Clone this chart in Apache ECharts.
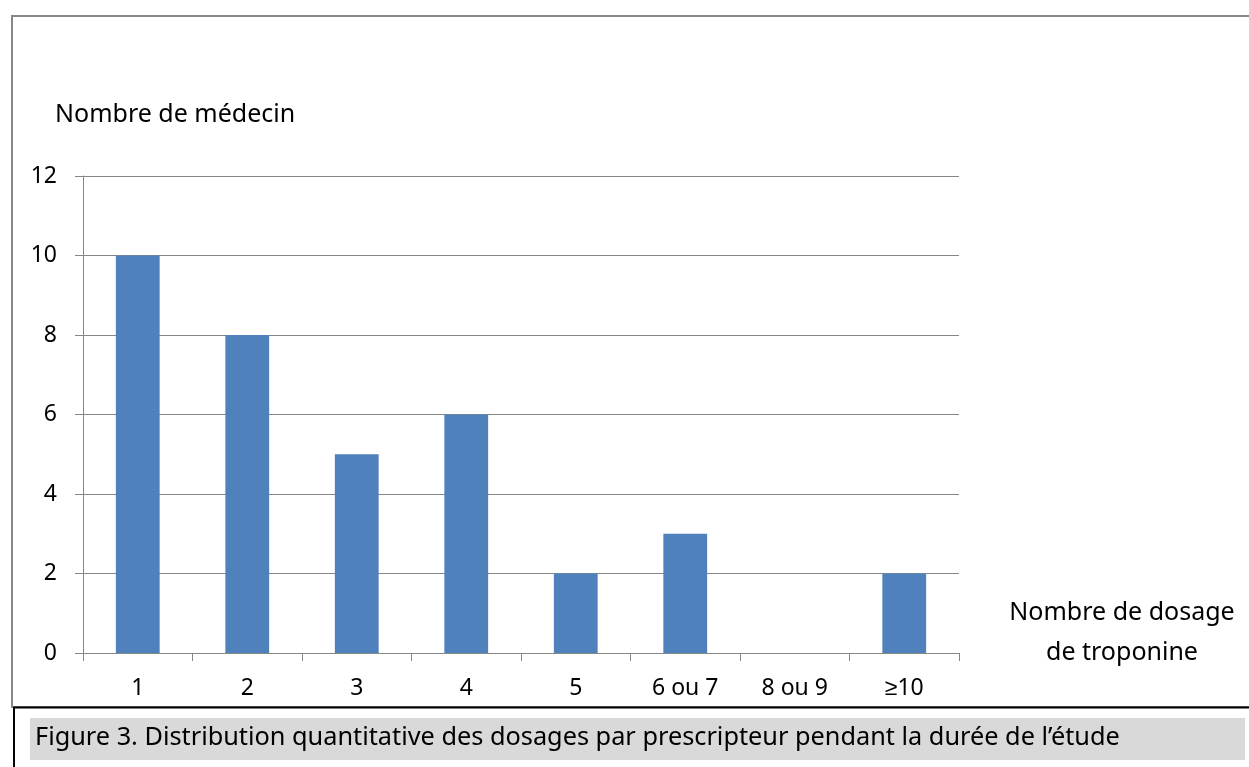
<!DOCTYPE html>
<html>
<head>
<meta charset="utf-8">
<script src="https://cdn.jsdelivr.net/npm/echarts@6/dist/echarts.min.js"></script>
<style>
html,body{margin:0;padding:0;background:#fff;}
#chart{width:1249px;height:767px;}
</style>
</head>
<body>
<div id="chart"></div>
<script>
const categories = ['1', '2', '3', '4', '5', '6 ou 7', '8 ou 9', '≥10'];
const values = [10, 8, 5, 6, 2, 3, 0, 2];
const yTicks = { min: 0, max: 12, interval: 2 };
const yTitle = 'Nombre de médecin';
const xTitle = 'Nombre de dosage\nde troponine';
const caption = 'Figure 3. Distribution quantitative des dosages par prescripteur pendant la durée de l’étude';

const FONT = '"Noto Sans", sans-serif';
const chart = echarts.init(document.getElementById('chart'), null, { renderer: 'canvas' });
chart.setOption({
  animation: false,
  backgroundColor: '#ffffff',
  grid: { left: 83, right: 290, top: 176, bottom: 114, containLabel: false, outerBoundsMode: 'none' },
  xAxis: {
    type: 'category',
    data: categories,
    boundaryGap: true,
    axisLine: { show: true, lineStyle: { color: '#868686', width: 1 } },
    axisTick: { show: true, length: 8, alignWithLabel: false, lineStyle: { color: '#868686' } },
    axisLabel: { color: '#000', fontFamily: FONT, fontSize: 23, margin: 24 },
    splitLine: { show: false }
  },
  yAxis: {
    type: 'value',
    min: yTicks.min, max: yTicks.max, interval: yTicks.interval,
    axisLine: { show: true, lineStyle: { color: '#868686', width: 1 } },
    axisTick: { show: true, length: 8, lineStyle: { color: '#868686' } },
    axisLabel: { color: '#000', fontFamily: FONT, fontSize: 23, margin: 26 },
    splitLine: { show: true, lineStyle: { color: '#868686', width: 1 } }
  },
  series: [{
    type: 'bar',
    data: values,
    barWidth: '40%',
    itemStyle: { color: '#4F81BD' }
  }],
  graphic: [
    { type: 'rect', z: -10, silent: true, shape: { x: 12, y: 16, width: 1250, height: 691 },
      style: { fill: 'none', stroke: '#888888', lineWidth: 2 } },
    { type: 'line', silent: true, shape: { x1: 13, y1: 707.5, x2: 1260, y2: 707.5 },
      style: { stroke: '#000000', lineWidth: 2 } },
    { type: 'line', silent: true, shape: { x1: 14, y1: 707, x2: 14, y2: 780 },
      style: { stroke: '#000000', lineWidth: 2 } },
    { type: 'rect', silent: true, shape: { x: 30, y: 718, width: 1215, height: 42 },
      style: { fill: '#d9d9d9' } },
    { type: 'text', silent: true, x: 35, y: 738,
      style: { text: caption, fill: '#000', font: '25.3px ' + FONT, textAlign: 'left', textVerticalAlign: 'middle' } },
    { type: 'text', silent: true, x: 55, y: 115,
      style: { text: yTitle, fill: '#000', font: '25px ' + FONT, textAlign: 'left', textVerticalAlign: 'middle' } },
    { type: 'text', silent: true, x: 1122, y: 633,
      style: { text: xTitle, fill: '#000', font: '25px ' + FONT, lineHeight: 40, textAlign: 'center', textVerticalAlign: 'middle' } }
  ]
});
</script>
</body>
</html>
